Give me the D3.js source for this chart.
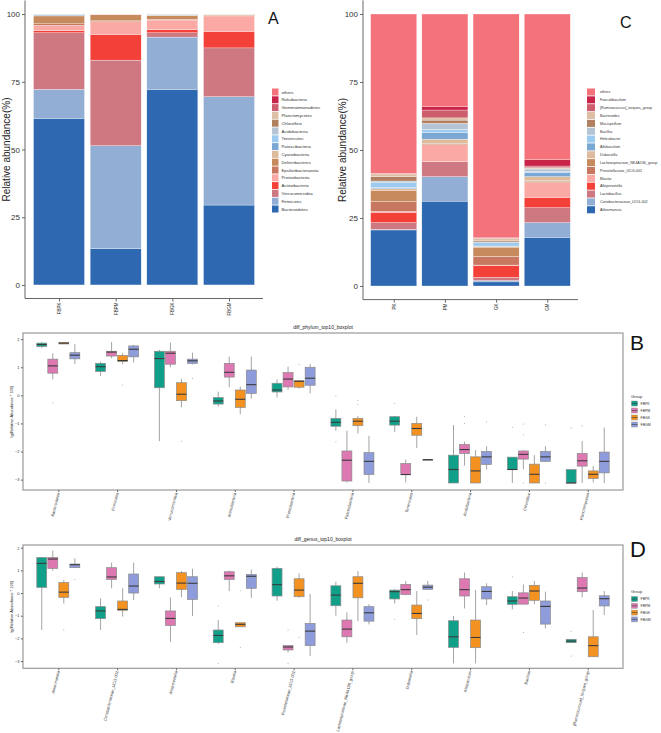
<!DOCTYPE html>
<html>
<head>
<meta charset="utf-8">
<script src="https://cdn.jsdelivr.net/npm/d3@7"></script>
<style>
body { margin: 0; background: #fff; }
svg { display: block; font-family: "Liberation Sans", Arial, sans-serif; }
.axis path, .axis line { stroke: #666; }
.axis text { fill: #333; }
</style>
</head>
<body>
<svg id="fig" width="661" height="733"></svg>
<script>

// ================= data : stacked bars =================
var samplesA = ["FBPK", "FBPM", "FBGK", "FBGM"];
// stack order, bottom -> top
var phylaA = ["Bacteroidetes", "Firmicutes", "Verrucomicrobia", "Actinobacteria", "Proteobacteria",
  "Epsilonbacteraeota", "Deferribacteres", "Cyanobacteria", "Patescibacteria", "Tenericutes",
  "Acidobacteria", "Chloroflexi", "Planctomycetes", "Gemmatimonadetes", "Rokubacteria", "others"];
// one row per phylum, one column per sample (%)
var phylumPct = [
  [61.5, 13.4, 72.2, 29.5],
  [10.7, 38.0, 19.3, 40.0],
  [20.9, 31.6, 1.6, 18.0],
  [0.7, 9.5, 1.1, 6.1],
  [2.0, 4.7, 3.6, 5.7],
  [0.6, 0.3, 0.3, 0.2],
  [2.9, 2.3, 1.4, 0.4],
  [0.1, 0.05, 0.1, 0.05],
  [0.3, 0.05, 0.2, 0.02],
  [0.1, 0.02, 0.1, 0.01],
  [0.1, 0.02, 0.1, 0.01],
  [0.05, 0.02, 0.02, 0.01],
  [0.0, 0.01, 0.0, 0.0],
  [0.0, 0.0, 0.0, 0.0],
  [0.0, 0.0, 0.0, 0.0],
  [0.0, 0.05, 0.0, 0.0]
];

var samplesC = ["PK", "PM", "GK", "GM"];
var generaC = ["Akkermansia", "Coriobacteriaceae_UCG-002", "Lactobacillus", "Alloprevotella", "Blautia",
  "Prevotellaceae_UCG-001", "Lachnospiraceae_NK4A136_group", "Dubosiella", "Allobaculum", "Helicobacter",
  "Bacillus", "Mucispirillum", "Bacteroides", "[Ruminococcus]_torques_group", "Faecalibaculum", "others"];
var genusPct = [
  [20.6, 31.2, 1.5, 17.9],
  [0.2, 9.0, 0.5, 5.4],
  [2.5, 5.5, 1.2, 5.5],
  [3.8, 0.1, 4.4, 3.8],
  [0.3, 6.1, 0.1, 5.4],
  [3.8, 0.3, 3.2, 0.4],
  [4.0, 0.3, 3.4, 0.3],
  [0.6, 1.5, 0.3, 1.5],
  [0.4, 2.5, 0.1, 1.5],
  [1.8, 1.1, 1.2, 0.3],
  [0.6, 2.2, 0.3, 1.0],
  [1.6, 1.2, 0.6, 0.2],
  [1.0, 0.8, 0.7, 0.3],
  [0.1, 2.9, 0.1, 0.6],
  [0.1, 1.2, 0.1, 2.3],
  [58.6, 34.1, 82.3, 53.6]
];

// shared palette, bottom -> top
var stackColors = ["#2D68B0", "#92AED4", "#CE7882", "#F3413A", "#FBA9A4", "#C87860", "#C68A5C", "#DDBB9C",
  "#7BA7D4", "#9DCBF0", "#B4C4D4", "#B08060", "#DDBFA6", "#CE5E6E", "#C9244A", "#F4737A"];

// ================= data : boxplots =================
var groups = ["FBPK", "FBPM", "FBGK", "FBGM"];
var groupColors = ["#10A08A", "#DE78B2", "#F39221", "#8F9CDB"];

var phylaB = ["Bacteroidetes", "Firmicutes", "Verrucomicrobia", "Actinobacteria", "Proteobacteria",
  "Patescibacteria", "Tenericutes", "Acidobacteria", "Chloroflexi", "Planctomycetes"];
// [min, q1, median, q3, max] per phylum
var phylumFBPK = [[1.68,1.74,1.81,1.86,1.9],[0.69,0.85,1.02,1.14,1.2],[-1.63,0.27,1.31,1.57,1.62],
  [-0.4,-0.31,-0.2,-0.08,0.13],[-0.07,0.12,0.19,0.43,0.57],[-1.26,-1.1,-0.96,-0.82,-0.5],
  [-1.3,-1.06,-0.92,-0.76,-0.74],[-3.12,-3.12,-2.64,-2.13,-1.06],[-3.12,-2.64,-2.64,-2.2,-2.2],
  [-3.12,-3.12,-3.12,-2.64,-2.64]];
var phylumFBPM = [[0.57,0.79,1.05,1.29,1.5],[1.32,1.4,1.54,1.57,1.9],[1.0,1.11,1.5,1.57,1.88],
  [0.29,0.65,0.82,1.14,1.38],[0.2,0.3,0.58,0.81,1.02],[-3.1,-3.05,-2.31,-1.98,-1.26],
  [-3.1,-2.82,-2.82,-2.43,-2.29],[-2.5,-2.07,-1.93,-1.75,-1.65],[-2.64,-2.27,-2.1,-1.98,-1.95],
  [-3.12,-2.52,-2.33,-2.07,-1.63]];
var phylumFBGK = [[1.82,1.83,1.86,1.88,1.9],[1.11,1.2,1.24,1.42,1.5],[-0.43,-0.19,0.04,0.45,0.58],
  [-0.68,-0.43,-0.14,0.19,0.31],[0.24,0.29,0.5,0.52,0.55],[-1.36,-1.08,-0.92,-0.82,-0.74],
  [-1.87,-1.42,-1.18,-1.0,-0.76],[-3.12,-3.12,-2.69,-2.19,-1.95],[-3.12,-3.12,-2.81,-2.45,-2.13],
  [-3.1,-2.96,-2.81,-2.69,-2.52]];
var phylumFBGM = [[1.12,1.3,1.43,1.52,1.82],[1.17,1.37,1.64,1.76,1.8],[1.1,1.14,1.23,1.29,1.52],
  [-0.12,0.07,0.38,0.9,1.38],[0.07,0.36,0.61,1.0,1.12],[-3.12,-2.82,-2.35,-2.04,-1.44],
  [-2.29,-2.29,-2.29,-2.29,-2.29],[-2.64,-2.46,-2.19,-2.0,-1.81],[-2.35,-2.35,-2.19,-2.0,-1.81],
  [-3.12,-2.76,-2.35,-2.02,-1.15]];
// [phylum index, group index, value]
var phylumOutliers = [[0,1,-0.26],[1,2,0.37],[2,2,-1.63],[2,3,0.6],[4,2,1.1],[5,0,-0.02],[5,0,-1.65],
  [5,2,-0.17],[5,2,-0.32],[5,1,-2.8],[6,0,-0.29],[7,1,-0.76],[7,1,-1.0],[7,3,-0.94],[8,0,-1.14],
  [8,1,-1.02],[8,1,-1.4],[8,1,-3.12],[8,3,-1.05],[8,3,-3.12],[9,0,-1.15],[9,1,-1.08]];

var generaD = ["Akkermansia", "Coriobacteriaceae_UCG-002", "Alloprevotella", "Blautia", "Prevotellaceae_UCG-001",
  "Lachnospiraceae_NK4A136_group", "Dubosiella", "Allobaculum", "Bacillus", "[Ruminococcus]_torques_group"];
var genusFBPK = [[-1.63,0.25,1.31,1.57,1.57],[-1.63,-1.13,-0.79,-0.6,-0.24],[0.21,0.4,0.51,0.72,0.72],
  [-2.25,-2.19,-1.87,-1.63,-1.19],[-0.34,-0.13,0.37,1.09,1.16],[-1.0,-0.56,-0.09,0.32,0.5],
  [-0.46,-0.26,0.06,0.13,0.18],[-3.1,-2.4,-1.93,-1.22,-1.01],[-0.72,-0.5,-0.35,-0.16,0.09],
  [-2.19,-2.19,-2.12,-2.04,-2.04]];
var genusFBPM = [[0.99,1.09,1.5,1.57,1.87],[0.21,0.6,0.71,1.12,1.34],[-2.15,-1.43,-1.12,-0.79,-0.19],
  [0.09,0.6,0.76,0.94,0.99],[-2.62,-2.51,-2.38,-2.32,-2.32],[-2.19,-1.93,-1.59,-1.19,-0.85],
  [-0.1,-0.06,0.15,0.38,0.53],[-0.68,-0.13,0.15,0.63,0.91],[-0.49,-0.49,-0.22,0.01,0.38],
  [-0.19,0.06,0.22,0.68,0.9]];
var genusFBGK = [[-0.46,-0.19,0.04,0.46,0.57],[-1.04,-0.76,-0.72,-0.35,0.21],[-0.18,0.16,0.44,0.9,0.97],
  [-1.49,-1.49,-1.38,-1.31,-1.31],[-0.21,-0.16,0.13,0.63,0.87],[-1.24,-0.21,0.43,0.72,0.97],
  [-1.85,-1.13,-0.9,-0.53,0.09],[-3.1,-2.41,-1.96,-1.19,0.13],[-0.49,-0.32,0.09,0.34,0.53],
  [-2.81,-2.81,-2.32,-1.93,-0.75]];
var genusFBGM = [[1.12,1.12,1.25,1.28,1.53],[-0.31,0.0,0.31,0.84,1.34],[-1.01,-0.28,0.43,0.72,1.07],
  [-0.21,0.21,0.74,0.82,1.04],[-2.78,-2.32,-1.68,-1.34,-0.04],[-1.38,-1.24,-0.87,-0.6,-0.49],
  [0.16,0.16,0.26,0.35,0.53],[-0.53,-0.26,0.07,0.28,0.43],[-1.56,-1.37,-0.59,-0.35,0.06],
  [-0.97,-0.57,-0.25,-0.12,0.09]];
var genusOutliers = [[0,2,-1.63],[0,3,0.6],[3,0,-0.57],[3,0,-3.1],[3,2,-2.4],[3,2,0.1],[4,1,-1.63],
  [4,1,-3.1],[4,2,-1.96],[6,0,-1.16],[6,3,-0.31],[8,0,0.72],[8,1,-1.74],[9,0,-1.68],[9,0,-2.78]];

var yTicksBox = [2, 1, 0, -1, -2, -3];

var svg = d3.select("#fig");

//================= stacked bar panel
function stackPanel(o) {
  var g = svg.append("g");
  var rows = o.samples.map(function(s, j) {
    var r = {sample: s};
    o.taxa.forEach(function(t, i) { r[t] = o.values[i][j]; });
    return r;
  });
  var series = d3.stack().keys(o.taxa)(rows);

  // discrete axis with ggplot-style 0.6 expansion
  var x = d3.scaleLinear().domain([0.4, o.samples.length + 0.6]).range([o.left, o.right]);
  var y = d3.scaleLinear().domain([-5, 105]).range([o.bottom, o.top]);
  var bw = x(0.9) - x(0);

  g.selectAll("g.layer")
    .data(series)
    .enter().append("g")
      .attr("class", "layer")
      .attr("fill", function(d, i) { return stackColors[i]; })
    .selectAll("rect")
    .data(function(d) { return d; })
    .enter().append("rect")
      .attr("x", function(d, j) { return x(j + 1) - bw / 2; })
      .attr("width", bw)
      .attr("y", function(d) { return y(d[1]); })
      .attr("height", function(d) { return Math.max(0, y(d[0]) - y(d[1])); })
      .attr("stroke", "#fff")
      .attr("stroke-width", 0.3);

  g.append("g")
    .attr("class", "axis")
    .attr("transform", "translate(" + o.left + ",0)")
    .call(d3.axisLeft(y).tickValues([0, 25, 50, 75, 100]).tickSize(3).tickPadding(2))
    .call(function(a) { a.select(".domain").attr("d", "M0," + o.top + "V" + o.bottom); })
    .selectAll("text").style("font-size", "8px");

  var xa = g.append("g")
    .attr("class", "axis")
    .attr("transform", "translate(0," + o.bottom + ")")
    .call(d3.axisBottom(x).tickValues(d3.range(1, o.samples.length + 1)).tickSize(3)
      .tickFormat(function(d) { return o.samples[d - 1]; }));
  xa.select(".domain").attr("d", "M" + o.left + ",0H" + o.right);
  xa.selectAll("text")
    .style("font-size", "4.5px")
    .attr("text-anchor", "end")
    .attr("dy", "0.35em")
    .attr("transform", "rotate(-90)")
    .attr("x", -4).attr("y", 0);

  g.append("text")
    .attr("transform", "translate(" + o.titleX + "," + ((o.top + o.bottom) / 2) + ") rotate(-90)")
    .attr("text-anchor", "middle")
    .attr("dy", "0.75em")
    .style("font-size", "10px")
    .attr("fill", "#222")
    .text("Relative abundance(%)");

  // legend, top entry is last stack layer
  var leg = g.append("g").attr("transform", "translate(" + o.legX + "," + o.legY + ")");
  var items = o.taxa.slice().reverse();
  items.forEach(function(t, i) {
    var ci = o.taxa.length - 1 - i;
    leg.append("rect")
      .attr("x", 0).attr("y", i * o.legStep - o.legStep / 2 + 0.4)
      .attr("width", o.keyW).attr("height", o.legStep - 0.8)
      .attr("fill", stackColors[ci]);
    leg.append("text")
      .attr("x", o.keyW + o.textGap).attr("y", i * o.legStep)
      .attr("dy", "0.35em")
      .style("font-size", o.legFont + "px")
      .attr("fill", "#333")
      .text(t);
  });

  g.append("text")
    .attr("x", o.letterX).attr("y", o.letterY)
    .style("font-size", o.letterSize + "px")
    .attr("fill", "#111")
    .text(o.letter);
}

stackPanel({samples: samplesA, taxa: phylaA, values: phylumPct,
  left: 25, right: 263, top: 0.5, bottom: 298.5, titleX: 2.5,
  legX: 272, legY: 92, legStep: 7.8, keyW: 6.5, textGap: 3, legFont: 4.3,
  letter: "A", letterX: 268, letterY: 24, letterSize: 16});

stackPanel({samples: samplesC, taxa: generaC, values: genusPct,
  left: 363, right: 578, top: 0.4, bottom: 299.6, titleX: 338,
  legX: 587, legY: 92, legStep: 7.85, keyW: 8, textGap: 5, legFont: 3.7,
  letter: "C", letterX: 620, letterY: 28, letterSize: 16});

//================= boxplot panel
function boxPanel(o) {
  var g = svg.append("g");
  var x = d3.scaleLinear().domain([0.4, o.cats.length + 0.6]).range([o.left, o.right]);
  var y = d3.scaleLinear().domain(o.yDomain).range([o.bottom, o.top]);
  var slot = 0.75 / groups.length;
  var bw = x(slot * 0.9) - x(0);

  function cx(c, gi) { return x(c + 1 + (gi - 1.5) * slot); }

  g.append("rect")
    .attr("x", o.left).attr("y", o.top)
    .attr("width", o.right - o.left).attr("height", o.bottom - o.top)
    .attr("fill", "none").attr("stroke", "#999").attr("stroke-width", 1.2);

  g.append("text")
    .attr("x", (o.left + o.right) / 2).attr("y", o.top - 4)
    .attr("text-anchor", "middle")
    .style("font-size", "5px")
    .attr("fill", "#222")
    .text(o.title);

  var ya = g.append("g")
    .attr("class", "axis")
    .attr("transform", "translate(" + o.left + ",0)")
    .call(d3.axisLeft(y).tickValues(yTicksBox).tickSize(2).tickPadding(1.5)
      .tickFormat(d3.format("d")));
  ya.select(".domain").remove();
  ya.selectAll("text").style("font-size", "4px");

  var xa = g.append("g")
    .attr("class", "axis")
    .attr("transform", "translate(0," + o.bottom + ")")
    .call(d3.axisBottom(x).tickValues(d3.range(1, o.cats.length + 1)).tickSize(2)
      .tickFormat(function(d) { return o.cats[d - 1]; }));
  xa.select(".domain").remove();
  xa.selectAll("text")
    .style("font-size", "4px")
    .attr("text-anchor", "end")
    .attr("y", 0).attr("x", 0).attr("dy", 0)
    .attr("transform", "translate(1,3) rotate(-76)");

  g.append("text")
    .attr("transform", "translate(" + (o.left - 10) + "," + ((o.top + o.bottom) / 2) + ") rotate(-90)")
    .attr("text-anchor", "middle")
    .style("font-size", "4px")
    .attr("fill", "#222")
    .text("lg(Relative Abundance * 100)");

  var boxes = [];
  o.stats.forEach(function(arr, gi) {
    arr.forEach(function(s, c) { boxes.push({c: c, gi: gi, s: s}); });
  });

  var bx = g.selectAll("g.box").data(boxes).enter().append("g").attr("class", "box");
  bx.append("line")
    .attr("x1", function(d) { return cx(d.c, d.gi); })
    .attr("x2", function(d) { return cx(d.c, d.gi); })
    .attr("y1", function(d) { return y(d.s[0]); })
    .attr("y2", function(d) { return y(d.s[4]); })
    .attr("stroke", "#9a9a9a").attr("stroke-width", 0.9);
  bx.append("rect")
    .attr("x", function(d) { return cx(d.c, d.gi) - bw / 2; })
    .attr("width", bw)
    .attr("y", function(d) { return y(d.s[3]); })
    .attr("height", function(d) { return Math.max(0.6, y(d.s[1]) - y(d.s[3])); })
    .attr("fill", function(d) { return groupColors[d.gi]; })
    .attr("stroke", "#8a8a8a").attr("stroke-width", 0.7);
  bx.append("line")
    .attr("x1", function(d) { return cx(d.c, d.gi) - bw / 2; })
    .attr("x2", function(d) { return cx(d.c, d.gi) + bw / 2; })
    .attr("y1", function(d) { return y(d.s[2]); })
    .attr("y2", function(d) { return y(d.s[2]); })
    .attr("stroke", "#3a3a3a").attr("stroke-width", 1.1);

  g.selectAll("circle.out").data(o.outliers).enter().append("circle")
    .attr("class", "out")
    .attr("cx", function(d) { return cx(d[0], d[1]); })
    .attr("cy", function(d) { return y(d[2]); })
    .attr("r", 0.5)
    .attr("fill", "#999");

  // legend
  var leg = g.append("g").attr("transform", "translate(" + o.legX + "," + o.legY + ")");
  leg.append("text").attr("x", 0).attr("y", 0).attr("dy", "0.35em")
    .style("font-size", "4px").attr("fill", "#333").text("Group");
  groups.forEach(function(gr, i) {
    var yy = 7 + i * o.legStep;
    leg.append("rect").attr("x", 0.5).attr("y", yy - 2.5).attr("width", 6).attr("height", 5)
      .attr("fill", groupColors[i]).attr("stroke", "#888").attr("stroke-width", 0.4);
    leg.append("line").attr("x1", 0.5).attr("x2", 6.5).attr("y1", yy).attr("y2", yy)
      .attr("stroke", "#3a3a3a").attr("stroke-width", 0.6);
    leg.append("text").attr("x", 9.5).attr("y", yy).attr("dy", "0.35em")
      .style("font-size", "3.5px").attr("fill", "#333").text(gr);
  });

  g.append("text")
    .attr("x", o.letterX).attr("y", o.letterY)
    .style("font-size", o.letterSize + "px")
    .attr("fill", "#111")
    .text(o.letter);
}

boxPanel({cats: phylaB, stats: [phylumFBPK, phylumFBPM, phylumFBGK, phylumFBGM], outliers: phylumOutliers,
  left: 23, right: 623, top: 333, bottom: 490, yDomain: [-3.37, 2.22],
  title: "diff_phylum_top10_boxplot", legX: 631, legY: 396.5, legStep: 7,
  letter: "B", letterX: 630, letterY: 350, letterSize: 21});

boxPanel({cats: generaD, stats: [genusFBPK, genusFBPM, genusFBGK, genusFBGM], outliers: genusOutliers,
  left: 23, right: 623, top: 545, bottom: 668.3, yDomain: [-3.32, 2.12],
  title: "diff_genus_top10_boxplot", legX: 631, legY: 592, legStep: 6.8,
  letter: "D", letterX: 630, letterY: 557, letterSize: 22});

</script>
</body>
</html>
